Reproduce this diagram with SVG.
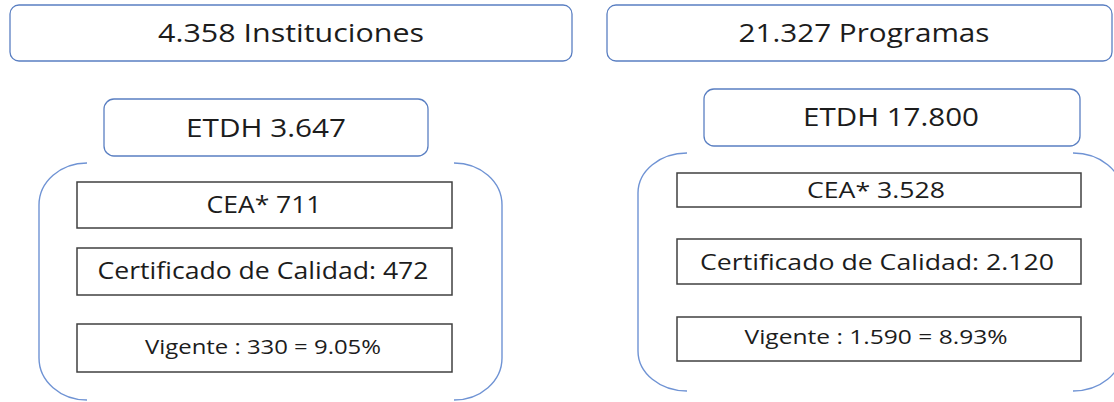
<svg xmlns="http://www.w3.org/2000/svg" width="1114" height="402" viewBox="0 0 1114 402">
  <style>
    .head { fill: #ffffff; stroke: #5a7fc2; stroke-width: 1.3; }
    .item { fill: #ffffff; stroke: #404040; stroke-width: 1.5; }
    .brk { fill: none; stroke: #6f93d4; stroke-width: 1.4; }
    text { font-family: "Open Sans", "Liberation Sans", sans-serif; fill: #1c1c1c; text-anchor: middle; }
    .t25 { font-size: 25px; }
    .t23 { font-size: 23px; }
    .t21 { font-size: 21px; }
    .t20 { font-size: 20px; }
  </style>
  <rect width="1114" height="402" fill="#ffffff"/>

  <!-- totals -->
  <g id="instituciones">
    <rect class="head" x="10" y="5" width="562" height="56" rx="9"/>
    <text class="t25" x="291" y="42" textLength="266" lengthAdjust="spacingAndGlyphs">4.358 Instituciones</text>
  </g>
  <g id="programas">
    <rect class="head" x="607" y="5" width="505" height="56" rx="9"/>
    <text class="t25" x="864" y="42" textLength="251" lengthAdjust="spacingAndGlyphs">21.327 Programas</text>
  </g>

  <!-- ETDH headers -->
  <g id="etdh-instituciones">
    <rect class="head" x="104" y="99" width="324" height="57" rx="10"/>
    <text class="t25" x="266" y="137" textLength="160" lengthAdjust="spacingAndGlyphs">ETDH 3.647</text>
  </g>
  <g id="etdh-programas">
    <rect class="head" x="704" y="89" width="376" height="57" rx="10"/>
    <text class="t25" x="891" y="126" textLength="176" lengthAdjust="spacingAndGlyphs">ETDH 17.800</text>
  </g>

  <!-- bracket pairs around each breakdown -->
  <g id="brackets">
    <path class="brk" d="M87,163 A48,42 0 0 0 39,205 L39,358 A48,42 0 0 0 87,400"/>
    <path class="brk" d="M454,163 A48,42 0 0 1 502,205 L502,358 A48,42 0 0 1 454,400"/>
    <path class="brk" d="M687,153 A49,40 0 0 0 638,193 L638,351 A49,40 0 0 0 687,391"/>
    <path class="brk" d="M1073,153 A49,40 0 0 1 1122,193 L1122,351 A49,40 0 0 1 1073,391"/>
  </g>

  <!-- institution breakdown -->
  <g id="cea-instituciones">
    <rect class="item" x="77" y="182" width="375" height="46"/>
    <text class="t23" x="264" y="213" textLength="115" lengthAdjust="spacingAndGlyphs">CEA* 711</text>
  </g>
  <g id="certificado-instituciones">
    <rect class="item" x="77" y="248" width="375" height="47"/>
    <text class="t23" x="263" y="279" textLength="331" lengthAdjust="spacingAndGlyphs">Certificado de Calidad: 472</text>
  </g>
  <g id="vigente-instituciones">
    <rect class="item" x="77" y="324" width="375" height="48"/>
    <text class="t20" x="263" y="354" textLength="236" lengthAdjust="spacingAndGlyphs">Vigente : 330 = 9.05%</text>
  </g>

  <!-- program breakdown -->
  <g id="cea-programas">
    <rect class="item" x="677" y="173" width="404" height="34"/>
    <text class="t21" x="876" y="198" textLength="138" lengthAdjust="spacingAndGlyphs">CEA* 3.528</text>
  </g>
  <g id="certificado-programas">
    <rect class="item" x="677" y="239" width="404" height="45"/>
    <text class="t21" x="877" y="270" textLength="354" lengthAdjust="spacingAndGlyphs">Certificado de Calidad: 2.120</text>
  </g>
  <g id="vigente-programas">
    <rect class="item" x="677" y="317" width="404" height="44"/>
    <text class="t20" x="876" y="344" textLength="263" lengthAdjust="spacingAndGlyphs">Vigente : 1.590 = 8.93%</text>
  </g>
</svg>
